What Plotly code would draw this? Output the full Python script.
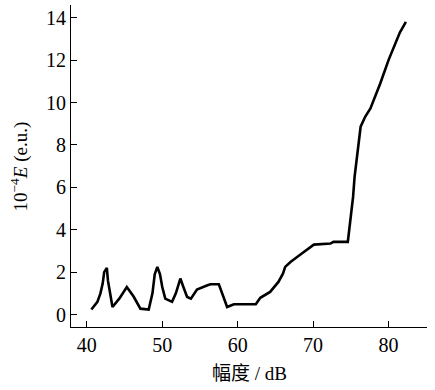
import plotly.graph_objects as go

amplitude_db = [40.6, 41.4, 41.8, 42.1, 42.3, 42.65, 42.8, 43.1, 43.4, 44.3, 45.3, 46.2, 47.1, 48.2,
                48.7, 49.0, 49.35, 49.7, 50.0, 50.4, 51.3, 51.8, 52.4, 52.8, 53.3, 53.8, 54.6,
                56.0, 56.4, 57.5, 57.8, 58.4, 58.6, 59.5, 62.4, 63.0, 64.3, 65.4, 66.0, 66.3,
                67.0, 68.5, 70.1, 72.3, 72.7, 74.6, 74.8, 75.0, 75.3, 75.5, 75.8, 76.1, 76.3,
                76.9, 77.6, 78.9, 80.0, 81.5, 82.3]
energy = [0.24, 0.6, 1.0, 1.46, 2.0, 2.2, 1.6, 0.9, 0.36, 0.75, 1.3, 0.85, 0.28, 0.24,
          1.0, 1.9, 2.25, 1.9, 1.3, 0.75, 0.6, 1.0, 1.7, 1.3, 0.83, 0.75, 1.18,
          1.38, 1.43, 1.43, 1.15, 0.52, 0.36, 0.49, 0.49, 0.79, 1.07, 1.54, 1.93, 2.25,
          2.48, 2.88, 3.3, 3.35, 3.43, 3.43, 3.98, 4.77, 5.55, 6.5, 7.44, 8.23, 8.86,
          9.33, 9.72, 10.9, 12.0, 13.3, 13.8]

x_ticks = [40, 50, 60, 70, 80]
y_ticks = [0, 2, 4, 6, 8, 10, 12, 14]

serif = "Liberation Serif, Times New Roman, Noto Sans CJK SC, serif"

fig = go.Figure()
fig.add_trace(go.Scatter(x=amplitude_db, y=energy, mode="lines",
                         line=dict(color="black", width=2.6), showlegend=False))

fig.update_layout(
    width=435, height=390,
    margin=dict(l=71, r=8, t=5, b=63, autoexpand=False),
    plot_bgcolor="white", paper_bgcolor="white",
    font=dict(family=serif, size=20, color="black"),
)
fig.update_xaxes(range=[37.9, 85.1], tickvals=x_ticks, ticks="inside", ticklen=6,
                 tickwidth=1.2, tickcolor="black", showline=True, linecolor="black",
                 linewidth=1.2, showgrid=False, zeroline=False, automargin=False,
                 tickfont=dict(family=serif, size=20))
fig.update_yaxes(range=[-0.585, 14.6], tickvals=y_ticks, ticks="inside", ticklen=6,
                 tickwidth=1.2, tickcolor="black", showline=True, linecolor="black",
                 linewidth=1.2, showgrid=False, zeroline=False, automargin=False,
                 tickfont=dict(family=serif, size=20))

fig.add_annotation(text="幅度 / dB", xref="paper", yref="paper", x=0.5, y=-0.145,
                   xanchor="center", yanchor="middle", showarrow=False,
                   font=dict(family=serif, size=19))
fig.add_annotation(text="10<sup>−4</sup><i>E</i> (e.u.)", xref="paper", yref="paper",
                   x=-0.145, y=0.5, xanchor="center", yanchor="middle", textangle=-90,
                   showarrow=False, font=dict(family=serif, size=19))

fig.write_html("out.html", config={"displayModeBar": False},
               post_script="document.body.style.margin='0px';")
